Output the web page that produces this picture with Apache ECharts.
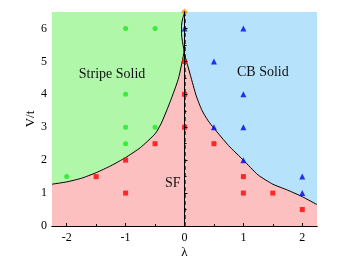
<!DOCTYPE html>
<html><head><meta charset="utf-8">
<script src="https://cdn.jsdelivr.net/npm/echarts@6/dist/echarts.min.js"></script>
<style>html,body{margin:0;padding:0;background:#fff}#c{width:343px;height:263px}</style>
</head><body><div id="c"></div>
<script>
// ---- data ----
const xTicks = [-2, -1, 0, 1, 2];
const xMinorTicks = [-1.5, -0.5, 0.5, 1.5];
const yTicks = [0, 1, 2, 3, 4, 5, 6];
const yMinorTicks = [0.5, 1.5, 2.5, 3.5, 4.5, 5.5];
const xRange = [-2.25, 2.25];
const yRange = [0, 6.5];

const stripeSolidPts = [[-1, 6], [-0.5, 6], [-1, 4], [-1, 3], [-0.5, 3], [-1, 2.5], [-2, 1.5]];
const cbSolidPts = [[0, 6], [1, 6], [0.5, 5], [1, 4], [0.5, 3], [1, 3], [1, 2], [2, 1.5], [2, 1]];
const sfPts = [[0, 5], [0, 4], [0, 3], [-0.5, 2.5], [0.5, 2.5], [-1, 2], [-1.5, 1.5], [1, 1.5], [-1, 1], [1, 1], [1.5, 1], [2, 0.5]];
const tricriticalPt = [[0, 6.5]];

// boundary Stripe Solid / SF (left edge -> junction)
const leftLam = [-2.25, -2.0, -1.75, -1.5, -1.25, -1.0, -0.75, -0.5, -0.4, -0.3, -0.2, -0.1, -0.01];
const leftV   = [1.27, 1.34, 1.45, 1.62, 1.83, 2.08, 2.38, 2.80, 3.10, 3.52, 3.98, 4.50, 5.25];
// boundary CB Solid / SF (junction -> right edge)
const rightLam = [-0.01, 0.05, 0.1, 0.2, 0.3, 0.4, 0.5, 0.75, 1.0, 1.25, 1.5, 1.75, 2.0, 2.25];
const rightV   = [5.25, 4.90, 4.58, 3.95, 3.50, 3.20, 2.97, 2.44, 2.00, 1.55, 1.27, 1.09, 0.89, 0.65];
// boundary Stripe Solid / CB Solid (top -> junction)
const topLam = [0, -0.03, -0.05, -0.05, -0.035, -0.015, -0.01];
const topV   = [6.5, 6.3, 6.1, 5.85, 5.6, 5.4, 5.25];
// dashed guide at lambda = 0
const guideLine = [[0, 0], [0, 6.5]];

const phaseLabels = ['Stripe Solid', 'CB Solid', 'SF'];
const phaseLabelPos = [[-1.23, 4.61], [1.33, 4.67], [-0.2, 1.3]];

// ---- build ----
const zip = (a, b) => a.map((v, i) => [v, b[i]]);
const leftB = zip(leftLam, leftV);
const rightB = zip(rightLam, rightV);
const topB = zip(topLam, topV);

const regionPolys = [
  { color: '#fcc0c0', pts: [[xRange[0], yRange[0]], [xRange[1], yRange[0]], [xRange[1], yRange[1]], [xRange[0], yRange[1]]] },
  { color: '#b0f7aa', pts: [[xRange[0], yRange[1]]].concat(topB, leftB.slice().reverse()) },
  { color: '#b6e3fb', pts: [[xRange[1], yRange[1]]].concat(topB, rightB.slice(1)) }
];

const FONT = "'Liberation Serif','Times New Roman',serif";
const axisCommon = { min: xRange[0], max: xRange[1], z: 10 };

const chart = echarts.init(document.getElementById('c'), null, { renderer: 'canvas' });
chart.setOption({
  animation: false,
  backgroundColor: '#ffffff',
  grid: { left: 52, right: 26, top: 12, bottom: 37, containLabel: false, outerBoundsMode: 'none' },
  xAxis: [
    Object.assign({}, axisCommon, {
      type: 'value', position: 'bottom',
      name: 'λ', nameLocation: 'middle', nameGap: 20, nameMoveOverlap: false,
      nameTextStyle: { fontFamily: FONT, fontSize: 13, color: '#000', verticalAlign: 'top' },
      axisLine: { show: true, lineStyle: { color: '#000', width: 1 } },
      axisTick: { show: true, inside: true, length: 3, customValues: xTicks, lineStyle: { color: '#000' } },
      axisLabel: { show: true, customValues: xTicks, margin: 6, fontFamily: FONT, fontSize: 12, color: '#000' },
      splitLine: { show: false }
    }),
    Object.assign({}, axisCommon, {
      type: 'value', position: 'bottom',
      axisLine: { show: false },
      axisTick: { show: true, inside: true, length: 2, customValues: xMinorTicks, lineStyle: { color: '#000' } },
      axisLabel: { show: false, customValues: xMinorTicks },
      splitLine: { show: false }
    }),
    Object.assign({}, axisCommon, {
      type: 'value', position: 'top',
      axisLine: { show: true, lineStyle: { color: '#000', width: 1 } },
      axisTick: { show: false }, axisLabel: { show: false }, splitLine: { show: false }
    })
  ],
  yAxis: [
    {
      type: 'value', min: yRange[0], max: yRange[1], position: 'left', z: 10,
      name: 'V/t', nameLocation: 'middle', nameGap: 15, nameRotate: 90, nameMoveOverlap: false,
      nameTextStyle: { fontFamily: FONT, fontSize: 13, color: '#000' },
      axisLine: { show: true, lineStyle: { color: '#000', width: 1 } },
      axisTick: { show: true, inside: true, length: 3, customValues: yTicks, lineStyle: { color: '#000' } },
      axisLabel: { show: true, customValues: yTicks, margin: 5, fontFamily: FONT, fontSize: 12, color: '#000' },
      splitLine: { show: false }
    },
    {
      type: 'value', min: yRange[0], max: yRange[1], position: 'left', z: 10,
      axisLine: { show: false },
      axisTick: { show: true, inside: true, length: 2, customValues: yMinorTicks, lineStyle: { color: '#000' } },
      axisLabel: { show: false, customValues: yMinorTicks },
      splitLine: { show: false }
    },
    {
      type: 'value', min: yRange[0], max: yRange[1], position: 'right', z: 10,
      axisLine: { show: true, lineStyle: { color: '#000', width: 1 } },
      axisTick: { show: false }, axisLabel: { show: false }, splitLine: { show: false }
    }
  ],
  series: [
    {
      type: 'custom', z: 1, silent: true,
      data: [0, 1, 2],
      renderItem: function (params, api) {
        const r = regionPolys[params.dataIndex];
        return {
          type: 'polygon',
          shape: { points: r.pts.map(p => api.coord(p)) },
          style: { fill: r.color, stroke: null }
        };
      }
    },
    {
      type: 'custom', z: 2, silent: true,
      data: [0],
      renderItem: function (params, api) {
        const a = api.coord(guideLine[0]), b = api.coord(guideLine[1]);
        return {
          type: 'line',
          shape: { x1: Math.round(a[0]) + 0.5, y1: a[1], x2: Math.round(b[0]) + 0.5, y2: b[1] },
          style: { stroke: '#555', lineWidth: 1, lineDash: [4, 3], fill: null }
        };
      }
    },
    { type: 'line', z: 3, data: leftB, showSymbol: false, symbol: 'none', smooth: 0.2, lineStyle: { color: '#000', width: 1 } },
    { type: 'line', z: 3, data: rightB, showSymbol: false, symbol: 'none', smooth: 0.2, lineStyle: { color: '#000', width: 1 } },
    { type: 'line', z: 3, data: topB, showSymbol: false, symbol: 'none', smooth: 0.3, lineStyle: { color: '#000', width: 1 } },
    { type: 'scatter', z: 5, data: stripeSolidPts, symbol: 'circle', symbolSize: 5, itemStyle: { color: '#1ee81e' } },
    { type: 'scatter', z: 5, data: cbSolidPts, symbol: 'triangle', symbolSize: 6, itemStyle: { color: '#0000f0' } },
    { type: 'scatter', z: 5, data: sfPts, symbol: 'rect', symbolSize: 5, itemStyle: { color: '#ff0000' } },
    { type: 'scatter', z: 6, data: tricriticalPt, symbol: 'diamond', symbolSize: 7, clip: false, itemStyle: { color: '#ff8c00' } },
    {
      type: 'custom', z: 7, silent: true,
      data: phaseLabelPos.map((p, i) => [p[0], p[1], i]),
      renderItem: function (params, api) {
        const c = api.coord([api.value(0), api.value(1)]);
        return {
          type: 'text', x: c[0], y: c[1],
          style: { text: phaseLabels[api.value(2)], fontFamily: FONT, fontSize: 14, fill: '#111', align: 'center', verticalAlign: 'middle' }
        };
      }
    }
  ]
});
</script></body></html>
